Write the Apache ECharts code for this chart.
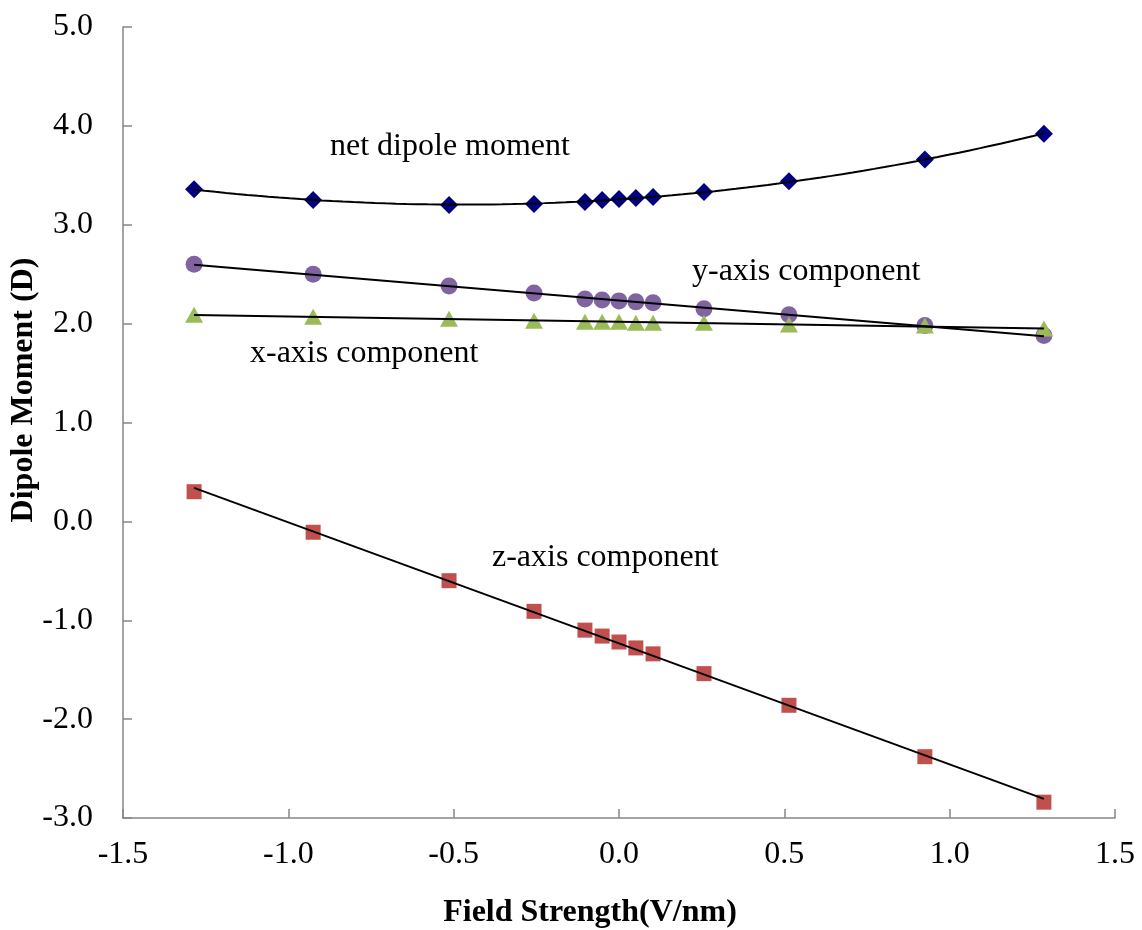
<!DOCTYPE html>
<html>
<head>
<meta charset="utf-8">
<script src="https://cdn.jsdelivr.net/npm/echarts@6/dist/echarts.min.js"></script>
<style>
  html, body { margin: 0; padding: 0; background: #fff; }
  #chart { width: 1142px; height: 930px; }
</style>
</head>
<body>
<div id="chart"></div>
<script>
// Field strength (V/nm) at which the dipole was computed
const fieldStrength = [-1.285, -0.925, -0.514, -0.257, -0.103, -0.051, 0, 0.051, 0.103, 0.257, 0.514, 0.925, 1.285];

// Dipole moment components (D)
const netDipole = [3.36, 3.25, 3.20, 3.21, 3.23, 3.25, 3.26, 3.27, 3.28, 3.33, 3.44, 3.66, 3.92];
const yComponent = [2.60, 2.50, 2.38, 2.31, 2.25, 2.24, 2.23, 2.22, 2.21, 2.15, 2.09, 1.98, 1.88];
const xComponent = [2.09, 2.07, 2.05, 2.03, 2.02, 2.02, 2.02, 2.01, 2.01, 2.01, 1.99, 1.98, 1.95];
const zComponent = [0.30, -0.11, -0.60, -0.91, -1.10, -1.16, -1.22, -1.28, -1.34, -1.54, -1.86, -2.38, -2.84];

const seriesNames = ['net dipole moment', 'y-axis component', 'x-axis component', 'z-axis component'];
const xTicks = [-1.5, -1.0, -0.5, 0.0, 0.5, 1.0, 1.5];
const yTicks = [-3, -2, -1, 0, 1, 2, 3, 4, 5];
const xTitle = 'Field Strength(V/nm)';
const yTitle = 'Dipole Moment (D)';

const serif = '"Liberation Serif", "DejaVu Serif", serif';

// Least-squares polynomial fit (degree 1 or 2) returning coefficients c0..cn
function polyFit(xs, ys, deg) {
  const n = deg + 1;
  const A = Array.from({length: n}, () => new Array(n + 1).fill(0));
  for (let k = 0; k < xs.length; k++) {
    for (let i = 0; i < n; i++) {
      for (let j = 0; j < n; j++) A[i][j] += Math.pow(xs[k], i + j);
      A[i][n] += ys[k] * Math.pow(xs[k], i);
    }
  }
  for (let i = 0; i < n; i++) {
    let p = i;
    for (let r = i + 1; r < n; r++) if (Math.abs(A[r][i]) > Math.abs(A[p][i])) p = r;
    [A[i], A[p]] = [A[p], A[i]];
    for (let r = 0; r < n; r++) {
      if (r === i) continue;
      const f = A[r][i] / A[i][i];
      for (let c = i; c <= n; c++) A[r][c] -= f * A[i][c];
    }
  }
  return A.map((row, i) => row[n] / row[i]);
}

// Trendline samples spanning the measured field range
function trend(ys, deg) {
  const c = polyFit(fieldStrength, ys, deg);
  const x0 = fieldStrength[0], x1 = fieldStrength[fieldStrength.length - 1];
  const steps = deg === 1 ? 1 : 80;
  const pts = [];
  for (let s = 0; s <= steps; s++) {
    const x = x0 + (x1 - x0) * s / steps;
    let y = 0;
    for (let i = 0; i < c.length; i++) y += c[i] * Math.pow(x, i);
    pts.push([x, y]);
  }
  return pts;
}

const pairs = ys => fieldStrength.map((x, i) => [x, ys[i]]);

function scatter(name, ys, symbol, size, color) {
  return {
    name, type: 'scatter', data: pairs(ys), symbol, symbolSize: size,
    itemStyle: { color, opacity: 1 }, z: 2, silent: true
  };
}
function fitLine(ys, deg) {
  return {
    type: 'line', data: trend(ys, deg), showSymbol: false, symbol: 'none',
    lineStyle: { color: '#000', width: 2 }, z: 3, silent: true
  };
}

const chart = echarts.init(document.getElementById('chart'), null, { renderer: 'canvas' });

const axisLineStyle = { color: '#868686', width: 1.5 };
const labelFont = { color: '#000', fontFamily: serif, fontSize: 32 };

function noteText(text, left, cy) {
  return {
    type: 'text', x: left, y: cy,
    style: { text, font: '32px ' + serif, fill: '#000', textAlign: 'left', textVerticalAlign: 'middle' }
  };
}

chart.setOption({
  animation: false,
  backgroundColor: '#ffffff',
  grid: { left: 123, right: 27, top: 27, bottom: 112, outerBoundsMode: 'none', containLabel: false },
  xAxis: {
    type: 'value', min: -1.5, max: 1.5, interval: 0.5,
    axisLine: { show: true, onZero: false, lineStyle: axisLineStyle },
    axisTick: { show: true, inside: true, length: 9, lineStyle: axisLineStyle },
    splitLine: { show: false },
    axisLabel: Object.assign({}, labelFont, {
      margin: 21,
      formatter: v => (xTicks.some(t => Math.abs(t - v) < 1e-9) ? v.toFixed(1) : '')
    })
  },
  yAxis: {
    type: 'value', min: -3, max: 5, interval: 1,
    axisLine: { show: true, onZero: false, lineStyle: axisLineStyle },
    axisTick: { show: true, inside: true, length: 9, lineStyle: axisLineStyle },
    splitLine: { show: false },
    axisLabel: Object.assign({}, labelFont, {
      margin: 30,
      formatter: v => (yTicks.some(t => Math.abs(t - v) < 1e-9) ? v.toFixed(1) : '')
    })
  },
  series: [
    scatter(seriesNames[0], netDipole, 'diamond', [18, 18], '#000080'),
    scatter(seriesNames[1], yComponent, 'circle', 17, '#8064A2'),
    scatter(seriesNames[2], xComponent, 'triangle', [18, 16], '#9BBB59'),
    scatter(seriesNames[3], zComponent, 'rect', 15, '#C0504D'),
    fitLine(netDipole, 2),
    fitLine(yComponent, 1),
    fitLine(xComponent, 1),
    fitLine(zComponent, 1)
  ],
  graphic: [
    noteText(seriesNames[0], 330, 147),
    noteText(seriesNames[1], 692, 272),
    noteText(seriesNames[2], 250, 354),
    noteText(seriesNames[3], 492, 558),
    {
      type: 'text', x: 590, y: 913,
      style: { text: xTitle, font: 'bold 32px ' + serif, fill: '#000', textAlign: 'center', textVerticalAlign: 'middle' }
    },
    {
      type: 'text', x: 24, y: 390, rotation: Math.PI / 2,
      style: { text: yTitle, font: 'bold 32px ' + serif, fill: '#000', textAlign: 'center', textVerticalAlign: 'middle' }
    }
  ]
});
</script>
</body>
</html>
